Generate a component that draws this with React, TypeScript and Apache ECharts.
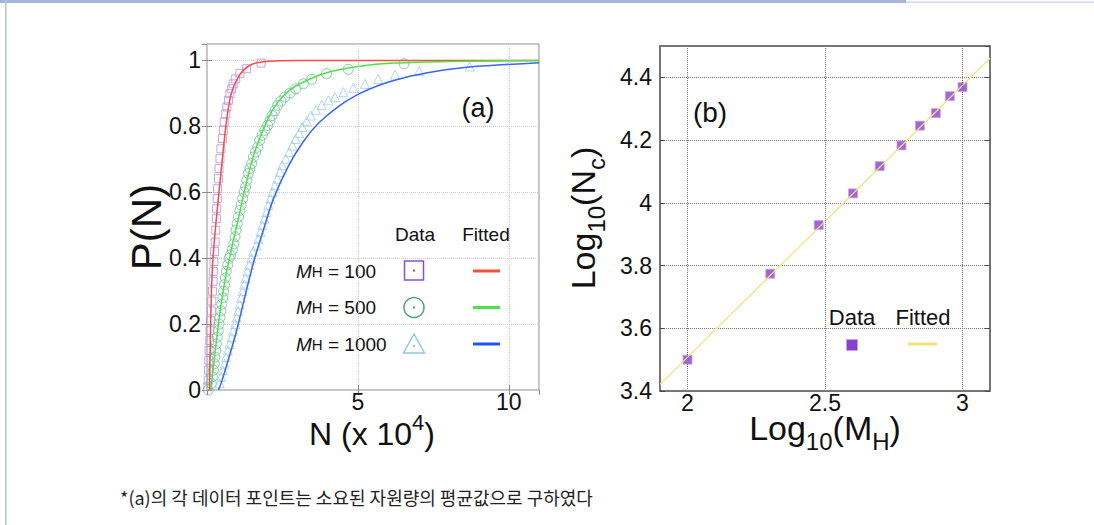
import React, { useEffect, useRef } from "react";
import * as echarts from "echarts";

// ---------- Panel (a): cumulative probability P(N) vs N (x 10^4) ----------
// M_H = 100 data (squares)
const m100N = [0.03, 0.04, 0.05, 0.06, 0.07, 0.09, 0.1, 0.12, 0.14, 0.16, 0.18, 0.2, 0.21, 0.23, 0.25, 0.27, 0.29, 0.31, 0.32, 0.34, 0.35, 0.38, 0.4, 0.43, 0.46, 0.51, 0.54, 0.57, 0.62, 0.66, 0.71, 0.76, 0.82, 0.87, 0.95, 1.09, 1.31, 1.79];
const m100P = [0.01, 0.03, 0.06, 0.09, 0.12, 0.15, 0.18, 0.21, 0.24, 0.27, 0.3, 0.33, 0.36, 0.39, 0.42, 0.449, 0.485, 0.52, 0.55, 0.581, 0.611, 0.641, 0.672, 0.702, 0.732, 0.763, 0.788, 0.813, 0.838, 0.859, 0.879, 0.899, 0.914, 0.929, 0.944, 0.961, 0.975, 0.992];
// M_H = 500 data (circles)
const m500N = [0.04, 0.14, 0.18, 0.21, 0.24, 0.26, 0.29, 0.31, 0.34, 0.37, 0.4, 0.43, 0.46, 0.49, 0.52, 0.55, 0.58, 0.61, 0.64, 0.69, 0.74, 0.78, 0.84, 0.89, 0.93, 0.96, 1.0, 1.04, 1.09, 1.13, 1.18, 1.23, 1.28, 1.32, 1.37, 1.42, 1.48, 1.54, 1.61, 1.68, 1.75, 1.83, 1.92, 2.01, 2.09, 2.16, 2.25, 2.34, 2.45, 2.58, 2.75, 2.94, 3.19, 3.47, 3.96, 4.68, 6.53];
const m500P = [0.0, 0.02, 0.04, 0.06, 0.08, 0.1, 0.12, 0.14, 0.16, 0.18, 0.2, 0.22, 0.24, 0.26, 0.28, 0.3, 0.32, 0.34, 0.36, 0.38, 0.4, 0.41, 0.426, 0.444, 0.465, 0.485, 0.505, 0.525, 0.545, 0.561, 0.581, 0.601, 0.616, 0.636, 0.657, 0.672, 0.687, 0.707, 0.722, 0.737, 0.758, 0.773, 0.788, 0.803, 0.818, 0.833, 0.848, 0.864, 0.877, 0.889, 0.901, 0.914, 0.929, 0.943, 0.96, 0.973, 0.99];
// M_H = 1000 data (triangles)
const m1000N = [0.42, 0.47, 0.52, 0.58, 0.63, 0.69, 0.75, 0.81, 0.87, 0.93, 0.98, 1.03, 1.08, 1.13, 1.18, 1.23, 1.28, 1.34, 1.4, 1.46, 1.53, 1.64, 1.7, 1.77, 1.83, 1.9, 1.97, 2.03, 2.1, 2.17, 2.25, 2.33, 2.42, 2.49, 2.61, 2.72, 2.83, 2.94, 3.05, 3.16, 3.3, 3.44, 3.61, 3.8, 4.02, 4.24, 4.52, 4.85, 5.23, 5.67, 6.23, 7.03, 8.7];
const m1000P = [0.02, 0.04, 0.06, 0.08, 0.1, 0.12, 0.14, 0.16, 0.18, 0.2, 0.22, 0.24, 0.26, 0.28, 0.3, 0.32, 0.34, 0.36, 0.38, 0.4, 0.42, 0.439, 0.459, 0.48, 0.5, 0.52, 0.54, 0.561, 0.581, 0.601, 0.621, 0.641, 0.662, 0.682, 0.702, 0.722, 0.742, 0.762, 0.78, 0.798, 0.816, 0.833, 0.85, 0.865, 0.879, 0.889, 0.904, 0.917, 0.929, 0.944, 0.957, 0.968, 0.982];
// Fitted curves
const fit100N = [0.08, 0.11, 0.14, 0.18, 0.24, 0.32, 0.43, 0.54, 0.65, 0.79, 0.98, 1.2, 1.53, 2.03, 3.0, 11.0];
const fit100P = [0, 0.15, 0.28, 0.37, 0.45, 0.53, 0.63, 0.73, 0.82, 0.895, 0.94, 0.97, 0.99, 0.998, 1.0, 1.0];
const fit500N = [0.12, 0.2, 0.3, 0.45, 0.62, 0.84, 1.04, 1.28, 1.59, 2.03, 2.34, 2.8, 3.47, 4.13, 5.0, 6.2, 8.0, 11.0];
const fit500P = [0, 0.06, 0.14, 0.25, 0.345, 0.44, 0.52, 0.62, 0.725, 0.825, 0.872, 0.914, 0.946, 0.967, 0.982, 0.992, 0.997, 1.0];
const fit1000N = [0.38, 0.5, 0.7, 0.98, 1.3, 1.55, 1.85, 2.2, 2.7, 3.2, 3.7, 4.35, 5.0, 5.7, 6.5, 7.6, 8.7, 11.0];
const fit1000P = [0, 0.03, 0.09, 0.18, 0.3, 0.39, 0.48, 0.58, 0.68, 0.755, 0.81, 0.86, 0.897, 0.925, 0.947, 0.967, 0.98, 0.993];
const legendLabelsA = ["100", "500", "1000"];

// ---------- Panel (b): Log10(Nc) vs Log10(MH) ----------
const logM = [2, 2.301, 2.477, 2.602, 2.699, 2.778, 2.845, 2.903, 2.954, 3];
const logNc = [3.5, 3.774, 3.929, 4.03, 4.117, 4.183, 4.246, 4.286, 4.34, 4.369];
const fitLogM = [1.9, 3.1];
const fitLogNc = [3.421, 4.461];
const bXTicks = [2, 2.5, 3];

const FONT = "'Liberation Sans', Arial, Helvetica, sans-serif";
const KFONT = "'Noto Sans CJK KR', 'Noto Sans', sans-serif";

const zip = (xs: number[], ys: number[]) => xs.map((x, i) => [x, ys[i]]);

let measureCtx: CanvasRenderingContext2D | null = null;
const measure = (text: string, size: number) => {
  if (!measureCtx) measureCtx = document.createElement("canvas").getContext("2d");
  if (!measureCtx) return text.length * size * 0.6;
  measureCtx.font = `${size}px ${FONT}`;
  return measureCtx.measureText(text).width;
};

// a title made of pieces; subscript pieces are smaller and lowered
const subTitle = (cx: number, cy: number, parts: [string, boolean][], rotation = 0) => {
  const MAIN = 34;
  const SUB = 24;
  const widths = parts.map(([t, sub]) => measure(t, sub ? SUB : MAIN));
  const total = widths.reduce((a, b) => a + b, 0);
  let x = -total / 2;
  const children = parts.map(([t, sub], i) => {
    const el = {
      type: "text",
      x,
      y: sub ? 13 : 0,
      silent: true,
      style: {
        text: t,
        fontSize: sub ? SUB : MAIN,
        fontFamily: FONT,
        fill: "#111",
        align: "left",
        textAlign: "left",
        verticalAlign: "middle",
        textVerticalAlign: "middle",
      },
    };
    x += widths[i];
    return el;
  });
  return { type: "group", x: cx, y: cy, rotation, children };
};

export default function App() {
  const ref = useRef<HTMLDivElement>(null);

  useEffect(() => {
    if (!ref.current) return;
    const chart = echarts.init(ref.current, null, { renderer: "svg" });

    const tickLabel = { fontSize: 23, color: "#111", fontFamily: FONT };
    const gridA = { left: 207, top: 44, width: 332, height: 346 };
    const gridB = { left: 660, top: 46, width: 330, height: 345 };

    const txt = (x: number, y: number, text: string, size: number, extra: any = {}) => ({
      type: "text",
      x,
      y,
      silent: true,
      style: {
        text,
        fontSize: size,
        fontFamily: FONT,
        fill: "#111",
        align: "center",
        textAlign: "center",
        verticalAlign: "middle",
        textVerticalAlign: "middle",
        ...extra,
      },
    });

    const legendRowsY = [271, 307, 344];

    const option: any = {
      animation: false,
      backgroundColor: "#fff",
      grid: [
        { ...gridA, show: true, borderColor: "#8a8a8a", borderWidth: 1, backgroundColor: "transparent" },
        { ...gridB, show: true, borderColor: "#4a4a4a", borderWidth: 1.5, backgroundColor: "transparent" },
      ],
      xAxis: [
        {
          gridIndex: 0, type: "value", min: 0, max: 11, interval: 5,
          axisLine: { show: false },
          axisTick: { show: true, inside: true, length: 5, lineStyle: { color: "#8a8a8a" } },
          splitLine: { show: true, lineStyle: { type: "dotted", color: "#cfcfcf" } },
          axisLabel: { ...tickLabel, margin: 0, showMinLabel: false, showMaxLabel: false },
        },
        {
          gridIndex: 1, type: "value", min: 1.9, max: 3.1, interval: 0.1,
          axisLine: { show: false }, axisTick: { show: false }, splitLine: { show: false },
          axisLabel: {
            ...tickLabel, margin: 0, showMinLabel: false, showMaxLabel: false,
            formatter: (v: number) => {
              const t = bXTicks.find((b) => Math.abs(b - v) < 1e-6);
              return t === undefined ? "" : String(t);
            },
          },
        },
        {
          gridIndex: 0, type: "value", min: 0, max: 11, interval: 5, position: "top",
          axisLine: { show: false }, splitLine: { show: false }, axisLabel: { show: false },
          axisTick: { show: true, inside: true, length: 5, lineStyle: { color: "#8a8a8a" } },
        },
      ],
      yAxis: [
        {
          gridIndex: 0, type: "value", min: 0, max: 1.05, interval: 0.2,
          axisLine: { show: false },
          axisTick: { show: true, inside: true, length: 5, lineStyle: { color: "#8a8a8a" } },
          splitLine: { show: true, lineStyle: { type: "dotted", color: "#cfcfcf" } },
          axisLabel: { ...tickLabel, margin: 6, showMaxLabel: false },
        },
        {
          gridIndex: 1, type: "value", min: 3.4, max: 4.5, interval: 0.2,
          axisLine: { show: false },
          axisTick: { show: true, inside: true, length: 5, lineStyle: { color: "#4a4a4a" } },
          splitLine: { show: true, lineStyle: { type: "dotted", color: "#777" } },
          axisLabel: { ...tickLabel, margin: 8, showMaxLabel: false },
        },
        {
          gridIndex: 0, type: "value", min: 0, max: 1.05, interval: 0.2, position: "right",
          axisLine: { show: false }, splitLine: { show: false }, axisLabel: { show: false },
          axisTick: { show: true, inside: true, length: 5, lineStyle: { color: "#8a8a8a" } },
        },
        {
          gridIndex: 1, type: "value", min: 3.4, max: 4.5, interval: 0.2, position: "right",
          axisLine: { show: false }, splitLine: { show: false }, axisLabel: { show: false },
          axisTick: { show: true, inside: true, length: 5, lineStyle: { color: "#4a4a4a" } },
        },
      ],
      series: [
        {
          type: "scatter", xAxisIndex: 0, yAxisIndex: 0, data: zip(m100N, m100P),
          symbol: "rect", symbolSize: 8,
          itemStyle: { color: "rgba(0,0,0,0)", borderColor: "#b98de6", borderWidth: 1 },
        },
        {
          type: "scatter", xAxisIndex: 0, yAxisIndex: 0, data: zip(m500N, m500P),
          symbol: "circle", symbolSize: 10,
          itemStyle: { color: "rgba(0,0,0,0)", borderColor: "#66be95", borderWidth: 1 },
        },
        {
          type: "scatter", xAxisIndex: 0, yAxisIndex: 0, data: zip(m1000N, m1000P),
          symbol: "triangle", symbolSize: 9,
          itemStyle: { color: "rgba(0,0,0,0)", borderColor: "#9fcdec", borderWidth: 1 },
        },
        {
          type: "line", xAxisIndex: 0, yAxisIndex: 0, data: zip(fit100N, fit100P),
          showSymbol: false, smooth: 0.3,
          lineStyle: { color: "#f2503e", width: 1.5 },
        },
        {
          type: "line", xAxisIndex: 0, yAxisIndex: 0, data: zip(fit500N, fit500P),
          showSymbol: false, smooth: 0.3,
          lineStyle: { color: "#4fe04a", width: 1.5 },
        },
        {
          type: "line", xAxisIndex: 0, yAxisIndex: 0, data: zip(fit1000N, fit1000P),
          showSymbol: false, smooth: 0.3,
          lineStyle: { color: "#3a66f0", width: 1.5 },
        },
        {
          type: "line", xAxisIndex: 1, yAxisIndex: 1, data: zip(fitLogM, fitLogNc),
          showSymbol: false, lineStyle: { color: "#f0e27a", width: 1.2 },
          markLine: {
            silent: true, symbol: "none", label: { show: false },
            lineStyle: { type: "dotted", color: "#777", width: 1 },
            data: bXTicks.map((v) => ({ xAxis: v })),
          },
        },
        {
          type: "scatter", xAxisIndex: 1, yAxisIndex: 1, data: zip(logM, logNc),
          symbol: "rect", symbolSize: 9,
          itemStyle: { color: "#8b3fcf", borderColor: "#c4a3ea", borderWidth: 1 },
        },
      ],
      graphic: [
        // page frame
        { type: "rect", silent: true, shape: { x: 0, y: 0, width: 906, height: 3 }, style: { fill: "#a3b7da" } },
        { type: "rect", silent: true, shape: { x: 906, y: 1.5, width: 188, height: 1.2 }, style: { fill: "#c3d1ea" } },
        { type: "rect", silent: true, shape: { x: 5, y: 0, width: 1.6, height: 525 }, style: { fill: "#b4c4e3" } },
        // panel (a) titles
        { ...txt(146, 227, "P(N)", 42), rotation: Math.PI / 2 },
        txt(372, 434, "N (x 10{sup|4})", 32, {
          rich: { sup: { fontSize: 22, lineHeight: 22, verticalAlign: "top", fontFamily: FONT, fill: "#111" } },
          lineHeight: 46,
        }),
        txt(478, 108, "(a)", 27),
        // panel (a) legend
        txt(415, 234, "Data", 19),
        txt(486, 234, "Fitted", 19),
        ...legendLabelsA.map((v, i) =>
          txt(296, legendRowsY[i], "{m|M}{h|H}{r| = " + v + "}", 19, {
            align: "left", textAlign: "left",
            rich: {
              m: { fontSize: 19, fontStyle: "italic", fontFamily: FONT, fill: "#111" },
              h: { fontSize: 15, fontFamily: FONT, fill: "#111" },
              r: { fontSize: 19, fontFamily: FONT, fill: "#111" },
            },
          })
        ),
        { type: "rect", silent: true, shape: { x: 404.5, y: 261, width: 19, height: 19 }, style: { fill: "none", stroke: "#8a4fd6", lineWidth: 1.5 } },
        { type: "circle", silent: true, shape: { cx: 414, cy: 270.5, r: 1.2 }, style: { fill: "#8a4fd6" } },
        { type: "circle", silent: true, shape: { cx: 414, cy: 307.5, r: 10 }, style: { fill: "none", stroke: "#4ea67e", lineWidth: 1.5 } },
        { type: "circle", silent: true, shape: { cx: 414, cy: 307.5, r: 1.2 }, style: { fill: "#4ea67e" } },
        { type: "polygon", silent: true, shape: { points: [[414, 334], [403.5, 353], [424.5, 353]] }, style: { fill: "none", stroke: "#92c6ea", lineWidth: 1.5 } },
        { type: "circle", silent: true, shape: { cx: 414, cy: 346, r: 1.2 }, style: { fill: "#92c6ea" } },
        { type: "line", silent: true, shape: { x1: 473, y1: 271, x2: 500, y2: 271 }, style: { stroke: "#f2503e", lineWidth: 3 } },
        { type: "line", silent: true, shape: { x1: 473, y1: 307.5, x2: 500, y2: 307.5 }, style: { stroke: "#4fe04a", lineWidth: 3 } },
        { type: "line", silent: true, shape: { x1: 473, y1: 344, x2: 500, y2: 344 }, style: { stroke: "#1f55ee", lineWidth: 3 } },
        // panel (b) titles
        subTitle(583, 218, [["Log", false], ["10", true], ["(N", false], ["c", true], [")", false]], Math.PI / 2),
        subTitle(825, 428, [["Log", false], ["10", true], ["(M", false], ["H", true], [")", false]]),
        txt(710, 112, "(b)", 28),
        // panel (b) legend
        txt(852, 317, "Data", 22),
        txt(923, 317, "Fitted", 22),
        { type: "rect", silent: true, shape: { x: 846.5, y: 339.5, width: 11, height: 11 }, style: { fill: "#8b3fcf", stroke: "#c4a3ea", lineWidth: 1 } },
        { type: "line", silent: true, shape: { x1: 908, y1: 344, x2: 937, y2: 344 }, style: { stroke: "#f0e27a", lineWidth: 3 } },
        // footnote
        txt(120, 497, "*(a)의 각 데이터 포인트는 소요된 자원량의 평균값으로 구하였다", 18, {
          align: "left", textAlign: "left", fontFamily: KFONT, fill: "#222",
        }),
      ],
    };

    chart.setOption(option);
    return () => chart.dispose();
  }, []);

  return (
    <div
      ref={ref}
      style={{ position: "absolute", left: 0, top: 0, width: 1094, height: 525, background: "#fff" }}
    />
  );
}
